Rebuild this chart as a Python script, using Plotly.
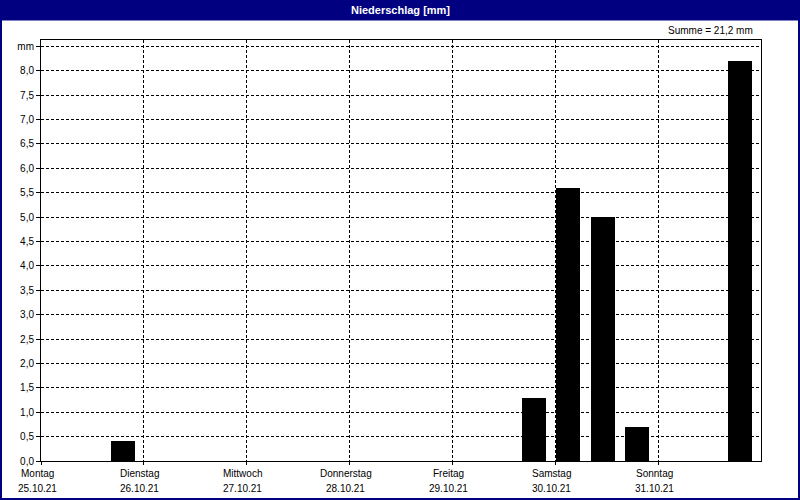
import plotly.graph_objects as go

# ---- data ----
bin_start = [
    "2021-10-25 00:00", "2021-10-25 08:00", "2021-10-25 16:00",
    "2021-10-26 00:00", "2021-10-26 08:00", "2021-10-26 16:00",
    "2021-10-27 00:00", "2021-10-27 08:00", "2021-10-27 16:00",
    "2021-10-28 00:00", "2021-10-28 08:00", "2021-10-28 16:00",
    "2021-10-29 00:00", "2021-10-29 08:00", "2021-10-29 16:00",
    "2021-10-30 00:00", "2021-10-30 08:00", "2021-10-30 16:00",
    "2021-10-31 00:00", "2021-10-31 08:00", "2021-10-31 16:00",
]
precip_mm = [0, 0, 0.4,
             0, 0, 0,
             0, 0, 0,
             0, 0, 0,
             0, 0, 1.3,
             5.6, 5.0, 0.7,
             0, 0, 8.2]

day_ticks = ["2021-10-25", "2021-10-26", "2021-10-27", "2021-10-28",
             "2021-10-29", "2021-10-30", "2021-10-31"]
day_names = ["Montag", "Dienstag", "Mittwoch", "Donnerstag",
             "Freitag", "Samstag", "Sonntag"]
day_dates = ["25.10.21", "26.10.21", "27.10.21", "28.10.21",
             "29.10.21", "30.10.21", "31.10.21"]

y_tickvals = [0, 0.5, 1, 1.5, 2, 2.5, 3, 3.5, 4, 4.5, 5, 5.5, 6, 6.5, 7, 7.5, 8, 8.5]
y_ticktext = ["0,0", "0,5", "1,0", "1,5", "2,0", "2,5", "3,0", "3,5", "4,0",
              "4,5", "5,0", "5,5", "6,0", "6,5", "7,0", "7,5", "8,0", "mm"]

title_text = "Niederschlag [mm]"
sum_text = "Summe = 21,2 mm"

# ---- layout geometry (pixels) ----
W, H = 800, 500
L, R, T, B = 41, 39, 40, 39
PW, PH = W - L - R, H - T - B


def px(x):
    return (x - L) / PW


def py(y):
    return (H - B - y) / PH


HOUR_MS = 3600 * 1000
FONT = "Liberation Sans"
NAVY = "#000080"

fig = go.Figure()
fig.add_trace(go.Bar(
    x=bin_start, y=precip_mm,
    width=8 * HOUR_MS * 0.7,
    offset=0.25 * HOUR_MS,
    marker=dict(color="#000000", line=dict(width=0)),
    hoverinfo="x+y",
))

annotations = [
    dict(text="<b>" + title_text + "</b>", x=px(400), y=py(10), xref="paper", yref="paper",
         showarrow=False, font=dict(family=FONT, size=11, color="white"),
         xanchor="center", yanchor="middle"),
    dict(text=sum_text, x=px(755), y=py(31), xref="paper", yref="paper",
         showarrow=False, font=dict(family=FONT, size=10, color="black"),
         xanchor="right", yanchor="middle"),
]
for d, n, dt in zip(day_ticks, day_names, day_dates):
    annotations.append(dict(text=n, x=d, y=py(473.5), xref="x", yref="paper",
                            showarrow=False, xshift=-4,
                            font=dict(family=FONT, size=10, color="black"),
                            xanchor="center", yanchor="middle"))
    annotations.append(dict(text=dt, x=d, y=py(488.5), xref="x", yref="paper",
                            showarrow=False, xshift=-4,
                            font=dict(family=FONT, size=10, color="black"),
                            xanchor="center", yanchor="middle"))

shapes = [
    dict(type="rect", xref="paper", yref="paper",
         x0=px(-2), x1=px(802), y0=py(20.5), y1=py(-2),
         fillcolor=NAVY, line=dict(width=0), layer="above"),
    dict(type="rect", xref="paper", yref="paper",
         x0=px(1), x1=px(799), y0=py(499), y1=py(1),
         fillcolor="rgba(0,0,0,0)", line=dict(color=NAVY, width=2), layer="above"),
]

fig.update_layout(
    width=W, height=H,
    margin=dict(l=L, r=R, t=T, b=B, pad=0, autoexpand=False),
    paper_bgcolor="white", plot_bgcolor="white",
    showlegend=False,
    bargap=0,
    annotations=annotations,
    shapes=shapes,
    font=dict(family=FONT, size=10, color="black"),
    xaxis=dict(
        type="date",
        range=["2021-10-25 00:00", "2021-11-01 00:00"],
        tickvals=day_ticks, showticklabels=False,
        ticks="outside", ticklen=3, tickcolor="black",
        showgrid=True, gridcolor="black", gridwidth=1, griddash="3px,2px",
        showline=True, linecolor="black", linewidth=1, mirror=True,
        zeroline=False, fixedrange=True, automargin=False,
    ),
    yaxis=dict(
        range=[0, 8.63],
        tickvals=y_tickvals, ticktext=y_ticktext,
        ticks="outside", ticklen=4, tickcolor="black",
        tickfont=dict(family=FONT, size=10, color="black"),
        showgrid=True, gridcolor="black", gridwidth=1, griddash="3px,2px",
        showline=True, linecolor="black", linewidth=1, mirror=True,
        zeroline=False, fixedrange=True, automargin=False,
    ),
)

fig.write_html(
    "out.html",
    config={"displayModeBar": False},
    post_script="document.body.style.margin='0';document.body.style.overflow='hidden';",
)
